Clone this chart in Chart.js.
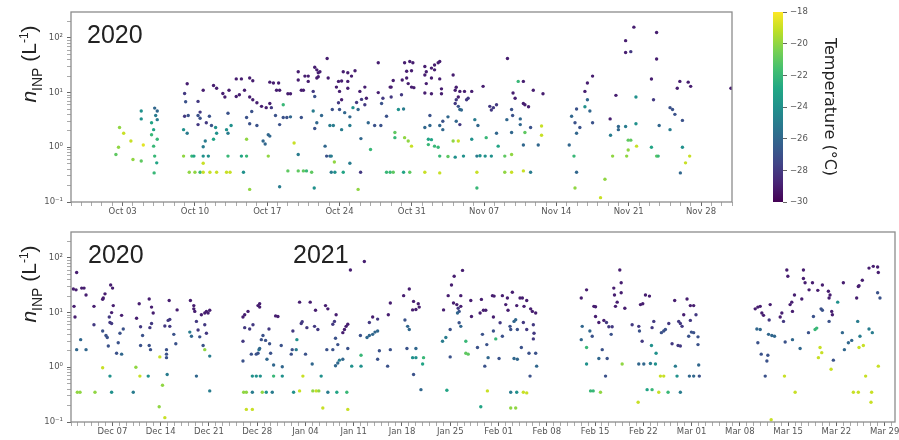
<!DOCTYPE html>
<html>
<head>
<meta charset="utf-8">
<script src="https://cdn.jsdelivr.net/npm/chart.js@4/dist/chart.umd.min.js"></script>
<style>
  body { margin: 0; background: #fff; }
  #wrap { position: relative; width: 899px; height: 440px; overflow: hidden; }
  canvas { position: absolute; }
  .ylab { position: absolute; transform: translate(-50%, -50%) rotate(-90deg); white-space: nowrap;
          font-family: "Liberation Sans", Arial, sans-serif; font-size: 21px; color: #222; }
  .ylab sub { font-size: 14px; }
  .ylab sup { font-size: 12px; }
  .year { position: absolute; font-family: "Liberation Sans", Arial, sans-serif; font-size: 25px;
          line-height: 25px; color: #222; }
</style>
</head>
<body>
<div id="wrap">
  <canvas id="topChart" width="899" height="220" style="left:0;top:0"></canvas>
  <canvas id="bottomChart" width="899" height="220" style="left:0;top:220px"></canvas>
  <canvas id="cbarChart" width="159" height="220" style="left:740px;top:0"></canvas>
  <div class="ylab" style="left:31px;top:64px"><i>n</i><sub>INP</sub> (L<sup>-1</sup>)</div>
  <div class="ylab" style="left:31px;top:284px"><i>n</i><sub>INP</sub> (L<sup>-1</sup>)</div>
  <div class="year" style="left:87px;top:22px">2020</div>
  <div class="year" style="left:88px;top:242px">2020</div>
  <div class="year" style="left:293px;top:242px">2021</div>
</div>
<script>
// x values are days since 2020-09-28
// top panel: Sep 28 - Dec 1 2020
const topDay = [
  4.7, 5.1, 4.6, 4.35, 5.8, 6.0, 6.8, 7.0, 6.8, 6.8,
  8.1, 8.35, 8.2, 8.35, 7.8, 8.0, 8.35, 8.0, 8.1, 8.3, 8.05, 7.8,
  11.25, 11.0, 11.1, 11.0, 11.35, 10.9, 11.25, 10.9, 11.7, 11.9, 11.45, 12.0, 12.5,
  12.3, 12.8, 12.5, 12.3, 12.5, 12.3, 13.1, 13.4, 13.6, 13.0, 12.8, 12.8, 13.3, 12.8, 12.8, 13.45, 14.1,
  13.8, 14.1, 14.7, 14.9, 15.3, 15.2, 14.0, 14.1, 13.8, 15.06, 15.2, 15.5, 15.2, 15.4, 15.06,
  16.0, 16.5, 16.0, 16.3, 16.8, 17.3, 17.6, 17.3, 17.6, 18.0, 18.45, 18.9, 19.25, 19.4,
  17.5, 17.0, 17.3, 18.0, 18.6, 18.8, 17.0, 16.5, 17.0, 16.7, 17.3, 19.1, 19.25, 19.1,
  19.25, 19.6, 20.1, 19.9, 20.2, 21.0, 21.25, 20.9, 20.55, 21.25, 19.8, 20.2, 20.55, 21.6, 21.0, 20.2,
  22.0, 22.0, 22.65, 22.97, 22.97, 22.3, 22.5, 23.6, 23.8, 23.94, 24.1, 23.8, 23.94, 24.8, 24.9,
  23.45, 23.6, 23.45, 23.8, 24.26, 23.6, 22.3, 22.0, 22.0, 22.5, 22.8, 23.3, 23.55, 24.6, 24.75, 25.07, 25.2, 25.5, 25.2, 25.55, 26.36, 27.0, 27.8,
  25.9, 26.2, 26.36, 26.8, 27.16, 27.5, 25.7, 26.0, 26.8, 26.8, 26.2, 25.9, 26.0, 25.3, 26.5, 27.0, 25.07, 25.4, 26.2, 27.0,
  27.97, 28.45, 28.13, 27.65, 28.6, 28.45, 27.3, 27.8, 28.78, 29.4, 30.0, 28.07, 29.0, 28.04,
  29.75, 29.75, 30.2, 30.55, 30.07, 31.0, 30.9, 31.2, 31.7, 32.2, 31.0, 31.36, 31.36, 32.3, 32.65, 32.97, 30.55, 30.9, 31.2, 32.2, 32.8, 34.26, 35.7,
  32.3, 32.8, 33.1, 32.5, 32.97, 32.07, 32.5, 32.65, 32.97, 33.2, 32.0,
  34.26, 34.4, 34.26, 34.9, 35.2, 35.55, 35.7, 35.2, 34.4, 34.9, 35.7, 34.26, 34.9, 35.87, 35.87, 34.75, 34.26, 34.75, 34.6, 34.9, 34.6, 35.2, 35.55, 35.7, 36.5, 37.2, 35.7, 36.0, 36.5, 36.0,
  37.0, 37.2, 37.3, 37.65, 37.3, 37.2, 37.5, 37.5, 37.65, 37.8, 37.3, 37.65, 37.0, 37.5,
  38.1, 38.45, 38.3, 38.8, 38.8, 38.0, 39.1, 39.4, 39.9, 39.3, 39.6, 40.1, 40.7, 39.3, 39.3, 40.55, 40.9, 41.2, 40.7, 40.2, 41.2, 41.36, 42.0, 42.0, 42.26, 42.2,
  42.66, 42.76, 42.66, 42.66, 42.66, 43.3, 43.8, 42.8, 43.0, 43.8, 43.95, 44.3, 43.5, 43.5, 44.5, 43.95, 43.8, 43.8, 44.5, 44.76, 45.7, 45.56, 45.56, 45.24,
  48.24, 48.47, 48.8, 48.95, 49.27, 48.95, 48.7, 48.95, 48.8, 49.76, 50.0, 49.76, 50.0, 50.5, 50.24, 50.5, 51.7, 51.27, 52.2, 52.76, 52.24, 52.44, 53.0, 53.0,
  53.7, 53.7, 54.2, 54.5, 53.7, 54.7, 54.7, 53.95, 54.2, 53.95, 53.8, 54.76,
  56.2, 56.7, 56.7, 56.4, 56.95, 56.2, 56.7, 56.85, 58.0, 58.0, 58.24, 58.47, 58.7, 58.95, 59.76, 60.0, 59.2, 59.2, 59.9, 59.5, 59.0, 63.9
];
const topConc = [
  2.3, 1.8, 1.0, 0.74, 1.3, 0.6, 0.56, 1.1, 4.6, 3.3,
  5.2, 4.6, 3.8, 3.2, 2.8, 2.1, 1.4, 1.05, 0.69, 0.52, 0.34, 1.7,
  14.5, 9.6, 6.8, 3.7, 3.8, 2.1, 1.8, 0.69, 0.69, 0.69, 0.35, 0.35, 0.35,
  6.9, 11, 4.4, 3.8, 3.4, 2.6, 2.8, 3.7, 2.5, 1.3, 1.02, 0.69, 0.69, 0.51, 0.35, 0.35, 0.35,
  13.5, 12, 9.6, 8.3, 11, 4.2, 2.3, 1.8, 1.4, 2.1, 1.8, 2.5, 0.69, 0.35, 0.35,
  17.8, 17.8, 8.5, 9.1, 11, 18.5, 16.5, 8.3, 7.4, 6.5, 5.6, 5.3, 6.3, 5.3,
  4.5, 3.5, 2.7, 2.5, 1.3, 1.15, 1.4, 0.69, 0.69, 0.35, 0.17, 1.7, 1.6, 0.69,
  15.5, 15, 15, 11, 11, 9.5, 9.5, 3.5, 3.5, 3.6, 3.8, 2.6, 6, 1.2, 0.37, 0.19,
  24, 17, 20, 20, 16, 11, 11, 29, 26, 23, 24, 18.5, 19.5, 42, 18.5,
  10.5, 8.5, 4.6, 2.8, 3.8, 2.2, 3.5, 0.74, 0.37, 0.37, 0.37, 0.35, 0.18, 1.05, 0.69, 0.69, 0.69, 0.54, 0.35, 0.35, 0.35, 0.51, 0.17,
  16, 16.3, 24, 23, 20, 25, 12.6, 10.5, 16, 12, 7.4, 6.5, 4.9, 4.9, 4.3, 3.6, 2.5, 2.5, 2.1, 2.5,
  10.5, 12.6, 7.5, 6.6, 7.9, 6, 5.3, 4.9, 2.8, 2.5, 2.5, 1.44, 0.91, 0.35,
  35, 10, 7.9, 3.7, 6.3, 12.6, 12.6, 16.6, 4.9, 5.0, 8.3, 1.86, 1.5, 1.5, 1.3, 1.05, 0.35, 0.35, 0.35, 0.35, 0.35, 0.35, 0.34,
  35, 37, 35, 24.5, 25, 17, 18.5, 14.6, 12.6, 12.3, 9.1,
  30, 24, 21, 28, 32, 35, 37, 26, 14.6, 18.5, 17.8, 9.8, 9.5, 11.7, 9.5, 3.8, 2.3, 2.5, 1.4, 1.38, 1.12, 1.05, 1.0, 0.69, 0.68, 0.66, 2.5, 2.1, 3.6, 3.0,
  21, 11, 12.5, 10.5, 7.4, 6.3, 8.3, 5.6, 4.9, 4.8, 3.0, 2.6, 1.3, 1.3,
  10.5, 7.9, 7.4, 10.5, 1.4, 0.69, 3.2, 2.5, 13, 0.69, 0.7, 0.69, 0.69, 0.35, 0.18, 5.6, 5.3, 6, 4.8, 1.5, 1.8, 1.05, 0.69, 0.35, 42, 3.2,
  4.9, 3.8, 1.86, 0.74, 0.35, 16, 16, 9.8, 7.9, 6.3, 6.0, 5.5, 3.3, 2.6, 2.3, 1.86, 1.1, 0.37, 0.35, 11, 9.5, 2.45, 1.66, 1.1,
  1.1, 3.7, 2.8, 5.0, 2.3, 1.8, 0.69, 0.35, 0.18, 5.5, 7.4, 10.5, 15, 20, 4.6, 2.8, 0.26, 0.12, 3.3, 8.9, 1.66, 0.69, 2.4, 2.1,
  89, 54, 56, 157, 2.4, 8.3, 2.7, 1.35, 1.35, 0.89, 0.69, 1.05,
  17.7, 125, 41, 7.4, 2.5, 1.0, 0.69, 0.69, 2.1, 5.3, 4.9, 4.0, 12, 16, 15.5, 13, 3.1, 1.0, 0.69, 0.52, 0.34, 12
];
const topTemp = [
  -20, -19, -20, -21, -19, -20, -21, -18.5, -24, -24,
  -26, -26, -25, -25, -23, -23, -22, -22, -22, -23, -22, -22,
  -29, -28, -27, -28, -27, -24, -25, -20, -22, -23, -20, -20, -22,
  -28, -29, -28, -27, -27, -28, -28, -27, -27, -25, -25, -24, -24, -19, -19, -19, -19,
  -29, -29, -29, -29, -29, -27, -24, -24, -23, -24, -25, -24, -22, -19, -19,
  -29, -29, -29, -29, -29, -29, -29, -29, -29, -29, -29, -29, -29, -28,
  -27, -27, -27, -27, -26, -26, -20, -23, -22, -24, -20, -26, -26, -20,
  -29, -29, -29, -29, -29, -29, -29, -27, -27, -26, -27, -27, -22, -19, -21, -25,
  -29, -29, -29, -29, -29, -29, -29, -29, -29, -29, -29, -29, -29, -29, -29,
  -28, -27, -25, -26, -26, -27, -27, -25, -21, -21, -22, -21, -24, -26, -27, -26, -25, -20, -25, -24, -23, -25, -20,
  -29, -29, -29, -29, -29, -29, -29, -29, -29, -29, -29, -28, -27, -27, -26, -26, -25, -25, -25, -25,
  -29, -29, -28, -28, -29, -28, -24, -26, -26, -27, -27, -26, -22, -28,
  -29, -29, -28, -27, -27, -29, -29, -29, -24, -25, -28, -21, -22, -20, -20, -19, -22, -22, -21, -23, -21, -19, -19,
  -29, -29, -29, -29, -29, -29, -29, -29, -29, -29, -28,
  -29, -29, -29, -29, -29, -29, -29, -29, -29, -29, -29, -29, -29, -29, -29, -27, -26, -26, -23, -23, -22, -22, -22, -22, -21, -24, -26, -26, -26, -27,
  -29, -29, -29, -29, -28, -28, -29, -27, -26, -26, -26, -28, -20, -19,
  -29, -28, -28, -29, -24, -24, -25, -26, -29, -25, -24, -24, -24, -19, -22, -28, -28, -28, -28, -22, -26, -23, -21, -20, -29, -26,
  -27, -27, -26, -20, -19, -22, -29, -29, -29, -29, -29, -29, -26, -26, -27, -21, -26, -19, -25, -29, -29, -19, -19, -26,
  -26, -26, -27, -27, -27, -26, -22, -26, -20, -24, -26, -29, -29, -29, -26, -27, -20, -19, -29, -29, -25, -20, -26, -26,
  -29, -29, -28, -29, -25, -24, -24, -21, -21, -20, -20, -19,
  -29, -29, -29, -28, -26, -23, -21, -22, -25, -27, -27, -27, -29, -29, -29, -29, -27, -24, -19, -19, -26, -29
];

// bottom panel: Dec 1 2020 - Mar 30 2021 (same day count)
const bottomDay = [
  64.82, 64.34, 64.73, 65.55, 65.89, 66.18, 64.44, 64.58, 65.4, 64.82, 66.18, 64.92, 65.31, 67.33, 67.33, 67.48, 68.59,
  68.68, 68.59, 68.93, 68.59, 69.07, 69.26, 69.65, 69.89, 69.65, 69.89, 69.55, 69.89, 70.13, 69.75, 70.03, 70.61, 71.34, 70.85, 71.1, 71.58, 69.41, 71.34,
  73.03, 73.51, 73.89, 74.09, 74.09, 74.38, 73.41, 73.99, 75.2, 75.34, 75.68, 75.44, 75.34, 75.68, 75.92, 75.53,
  76.88, 77.27, 76.79, 77.61, 77.85, 77.85, 77.85, 77.95, 77.61, 78.09, 78.33, 78.24, 78.33, 78.91, 79.2, 79.39,
  81.32, 81.81, 81.81, 81.95, 82.19, 82.91, 83.4, 83.64, 84.12, 83.88, 83.4, 82.43, 81.23, 81.47, 82.67, 83.16, 83.64, 84.12, 82.19, 83.4, 84.12,
  88.94, 89.19, 89.67, 91.12, 91.36, 91.36, 89.19, 89.91, 90.39, 88.94, 90.15, 90.87, 91.12, 91.26, 91.6, 91.84, 92.22, 92.71, 92.8, 92.95, 93.38, 93.67, 94.01, 88.94, 91.36, 92.42,
  90.3, 90.87, 91.45, 93.38, 94.64, 89.04, 89.43, 90.3, 91.74, 92.32, 93.19, 89.43, 90.3,
  94.49, 94.64, 95.94, 96.08, 96.18, 96.66, 97.15, 97.39, 97.53, 96.76, 98.01, 97.63, 96.28, 97.15,
  98.69, 99.46, 98.21, 99.32, 99.8, 98.98, 100.28, 99.07, 99.56, 99.94, 100.52, 100.91, 101.25, 101.1, 101.97, 101.25, 102.55,
  102.45, 102.21, 101.97, 102.36, 102.69, 102.69, 102.36, 102.93, 103.42, 103.9, 103.66, 103.42, 104.14, 104.14, 104.0, 104.14,
  104.52, 106.54, 105.97, 106.06, 106.06, 104.71, 107.27, 107.75, 108.47, 106.93, 107.27, 107.75, 108.09, 108.47, 108.72, 108.47, 109.92, 110.02, 110.31, 110.31,
  112.24, 113.06, 113.68, 113.54, 114.02, 114.36, 114.5, 112.43, 112.82, 113.06, 112.72, 114.02, 113.54, 114.02, 115.13, 114.99, 113.68, 114.75, 118.51,
  118.03, 117.88, 118.36, 118.99, 118.99, 118.7, 119.18, 119.57, 120.78, 119.47, 119.95, 120.15, 120.53, 120.29, 120.05, 120.53, 120.29, 120.53, 121.26, 121.26, 121.6,
  121.98, 122.08, 123.33, 123.52, 123.81, 124.15, 123.67, 122.95, 124.3, 124.49, 124.01, 124.39, 123.43,
  125.12, 125.36, 125.26, 125.6, 125.26, 126.23, 126.08, 126.56, 126.56, 127.29, 127.05, 128.01, 127.38, 127.67, 127.77, 128.25, 128.49, 128.64, 129.12, 129.46, 130.09, 129.7,
  128.73, 129.31, 128.25, 128.73, 129.6, 130.09, 130.66, 130.91, 131.39, 131.05, 131.15, 131.05, 130.42, 131.39, 131.53, 130.57, 127.77, 128.64, 129.6, 130.09, 127.77, 128.49,
  138.0, 138.77, 139.83, 140.07, 140.07, 140.55, 141.28, 141.66, 142.0, 142.48, 142.34, 138.14, 138.0, 139.25, 139.59, 138.77, 138.77, 140.55, 141.76, 141.04, 141.52, 139.35, 139.73, 140.79,
  142.72, 142.82, 142.96, 143.21, 143.59, 143.79, 143.79, 143.93,
  144.32, 145.38, 146.34, 146.44, 146.83, 146.59, 146.92, 147.31, 147.89, 148.27, 148.52, 148.18, 148.85, 146.34, 147.07, 148.03, 148.76, 147.55, 148.27, 149.24, 150.59, 149.48, 149.96, 146.25,
  149.62, 149.96, 150.2, 150.69, 151.17, 151.55, 152.37, 152.13, 152.62, 152.04, 152.37, 151.65, 151.89, 152.37, 153.34, 153.82, 154.3, 152.86, 153.82, 154.64, 153.58, 153.97, 154.3, 154.93, 154.93, 155.03, 153.68, 154.3, 155.12,
  163.23, 163.61, 163.95, 164.19, 164.43, 163.47, 163.95, 163.61, 164.1, 165.06, 164.92, 164.68, 165.16, 165.64, 166.03, 165.25, 165.4, 166.85, 167.09, 167.33, 167.57, 167.47,
  167.81, 167.96, 168.29, 168.53, 168.63, 168.92, 168.63, 169.02, 169.74, 169.98, 170.22, 170.22, 170.46, 171.04, 171.53, 172.3, 172.97, 170.95, 171.67, 171.91, 172.15, 172.63, 172.88, 172.39,
  173.84, 174.08, 173.94, 174.32, 174.42, 172.78, 172.97, 173.94, 174.56, 174.23, 175.19, 176.01, 175.87, 176.16, 176.74, 177.22,
  177.94, 178.18, 178.28, 178.76, 178.09, 178.42, 178.28, 178.91, 179.24, 177.46, 178.18, 179.73, 180.35, 180.98, 181.08, 180.98, 181.32, 179.73, 180.21, 181.08, 180.11, 180.02, 165.54
];
const bottomConc = [
  54, 27, 26, 28, 28, 21, 13, 8.3, 3.2, 2.1, 2.1, 0.35, 0.35, 13, 6, 0.35, 0.98,
  18.5, 17.5, 22, 4.6, 3.8, 3.5, 0.69, 0.35, 6.6, 6.3, 8.3, 10, 13.4, 32, 28, 1.8, 1.74, 2.8, 4.2, 5, 2.45, 8.9,
  0.35, 7.9, 14.5, 5.5, 2.5, 3.8, 1.0, 0.69, 0.69, 17.7, 12.6, 5.3, 2.5, 6.3, 9.8, 2.1,
  1.55, 0.47, 0.19, 0.12, 2.1, 1.74, 1.5, 0.74, 5.7, 7.2, 7.5, 16.6, 5.6, 4, 2.7, 11.2,
  16.6, 13.4, 11.7, 10.5, 6.9, 9.1, 9.8, 10.5, 11, 9.8, 6, 4.8, 4.4, 3.7, 3.6, 2.5, 4.2, 1.6, 0.69, 2.1, 0.37,
  8.3, 9.1, 10.5, 13.4, 12.6, 14.5, 5.3, 5, 6, 3, 1.74, 1.74, 1.8, 2.1, 3.2, 3.8, 3.1, 5, 2.7, 1.8, 1.1, 8.7, 8.5, 1.3, 2.2, 1.4,
  0.69, 0.69, 0.69, 0.69, 0.69, 0.35, 0.35, 0.35, 0.35, 0.35, 0.35, 0.17, 0.17,
  2.5, 1.02, 1.74, 2.1, 4.6, 2.1, 15.5, 6.3, 6.8, 3.2, 1.74, 0.69, 0.35, 0.37,
  15.5, 11, 5.3, 5.6, 4.9, 1.15, 0.69, 0.37, 0.37, 0.37, 0.18, 13.4, 11.7, 2.1, 2.1, 0.35, 0.35,
  9.1, 6.9, 6.1, 3.4, 2.6, 1.2, 1.07, 1.35, 1.4, 5.6, 4.9, 4.3, 6.1, 2.2, 0.35, 0.17,
  60, 86, 3.8, 1.66, 1.05, 1.05, 6.6, 8.3, 7.6, 3.5, 3.8, 4, 4.4, 4.6, 2.0, 1.4, 1.05, 9.1, 15, 2.1,
  20.4, 27, 16, 11.2, 11.4, 14.5, 12.6, 7.3, 5.6, 4.9, 2.2, 2.2, 1.5, 1.5, 1.5, 1.15, 0.74, 0.39, 0.38,
  11.2, 3, 3.5, 4.9, 1.55, 20.4, 32, 46, 59, 15, 14, 12, 13, 10.5, 9.8, 5.6, 6.5, 20.4, 3, 1.8, 1.74,
  16.6, 8.5, 9.8, 17.4, 11, 11, 4, 2.3, 2.6, 1.5, 1.05, 0.37, 0.19,
  20.4, 20, 8.3, 3.3, 4.6, 6.5, 1.45, 3.7, 20.4, 18.5, 14, 23.5, 11, 5.6, 4.9, 6.9, 7.4, 13.4, 18.5, 18.5, 16.6, 13,
  4.9, 2.3, 1.45, 1.4, 6.6, 4.9, 11.7, 10.5, 9.8, 6, 4.2, 3.3, 1.8, 1.8, 1.05, 0.69, 0.35, 0.35, 0.35, 0.34, 0.18, 0.18,
  18.5, 26, 13, 12.8, 8.5, 6.6, 7.2, 6.6, 5.5, 5.5, 4, 5.6, 3.2, 4.6, 3.7, 2.3, 1.15, 1.45, 1.45, 2.1, 0.69, 0.37, 0.37, 0.35,
  28, 21, 13, 15.5, 60, 35, 23, 1.15,
  12, 6, 5.6, 4.6, 3, 14, 14.5, 21, 20, 5.3, 6.9, 2.5, 1.8, 1.15, 1.15, 1.17, 1.15, 0.39, 0.39, 0.35, 0.35, 0.69, 0.69, 0.23,
  4.3, 4.6, 4.9, 6.3, 2.7, 16.6, 6.3, 6.9, 5.6, 2.5, 2.45, 1.05, 0.69, 0.35, 17.7, 13.4, 13.4, 9.1, 7.2, 9.1, 3.7, 4.4, 4.3, 3.6, 2.6, 1.1, 0.69, 0.69, 0.69,
  11.7, 12.6, 13, 9.8, 8.9, 5, 4.9, 2.8, 1.74, 1.66, 1.3, 0.69, 4, 3.8, 3.7, 7.3, 14, 8.3, 9.8, 6.9, 2.9, 0.69,
  60, 46, 14, 15.5, 10.5, 21, 3.2, 0.35, 2.2, 17.7, 60, 42, 35, 26, 35, 25.5, 32, 4.3, 8.5, 4.9, 5.2, 2.3, 1.85, 1.5,
  24.5, 21, 18.5, 10.5, 9.1, 11.7, 11, 6.9, 1.35, 0.92, 15.5, 35, 4.3, 2.1, 2.8, 3.1,
  18.5, 30, 31, 39, 6.9, 3.7, 2.3, 2.5, 0.69, 0.35, 0.35, 65, 70, 68, 54, 23, 18.5, 5, 4.3, 1.05, 0.35, 0.23, 0.11
];
const bottomTemp = [
  -29, -29, -29, -29, -29, -29, -29, -29, -26, -26, -26, -20, -20, -29, -28, -20, -19,
  -29, -29, -29, -27, -27, -27, -24, -24, -28, -28, -28, -29, -29, -29, -29, -27, -26, -27, -27, -27, -27, -29,
  -25, -29, -29, -28, -27, -27, -20, -19, -24, -29, -29, -28, -27, -28, -29, -27,
  -19, -20, -20, -19, -27, -27, -27, -25, -28, -28, -28, -29, -28, -27, -27, -29,
  -29, -29, -29, -29, -28, -29, -29, -29, -29, -29, -28, -28, -25, -26, -27, -27, -28, -25, -26, -20, -25,
  -29, -29, -29, -29, -29, -29, -28, -28, -28, -28, -27, -27, -27, -25, -27, -27, -27, -28, -27, -27, -26, -29, -29, -27, -26, -26,
  -24, -24, -24, -22, -24, -20, -20, -25, -20, -24, -25, -19, -19,
  -27, -26, -27, -27, -28, -25, -29, -28, -28, -24, -27, -19, -24, -19,
  -29, -29, -28, -28, -28, -26, -24, -20, -19, -20, -19, -29, -29, -27, -27, -25, -23,
  -29, -28, -28, -27, -27, -26, -26, -25, -26, -29, -29, -29, -29, -27, -22, -19,
  -29, -29, -27, -22, -24, -24, -28, -29, -28, -26, -26, -26, -26, -26, -27, -27, -27, -29, -29, -27,
  -29, -29, -29, -29, -29, -29, -29, -27, -26, -26, -27, -26, -24, -24, -22, -23, -27, -26, -23,
  -29, -25, -25, -27, -27, -29, -29, -29, -29, -29, -29, -28, -29, -27, -26, -26, -27, -29, -22, -21, -21,
  -29, -29, -29, -29, -29, -29, -27, -27, -27, -26, -27, -19, -23,
  -29, -29, -29, -22, -27, -28, -27, -27, -29, -29, -29, -29, -29, -27, -27, -26, -26, -29, -29, -29, -29, -29,
  -27, -27, -26, -26, -28, -28, -29, -29, -29, -28, -28, -28, -27, -27, -26, -27, -25, -24, -19, -19, -20, -20,
  -29, -29, -29, -29, -29, -29, -29, -28, -28, -28, -27, -26, -26, -26, -27, -22, -24, -26, -27, -27, -27, -22, -22, -20,
  -29, -29, -29, -29, -29, -29, -29, -20,
  -29, -28, -28, -27, -28, -29, -29, -29, -29, -28, -28, -24, -24, -26, -26, -25, -24, -23, -22, -19, -22, -19, -19, -19,
  -27, -27, -27, -28, -28, -29, -28, -28, -28, -28, -28, -25, -24, -25, -29, -29, -29, -29, -28, -28, -27, -27, -27, -27, -27, -26, -26, -26, -27,
  -29, -29, -29, -29, -29, -26, -26, -27, -27, -27, -27, -27, -26, -26, -26, -28, -29, -29, -29, -28, -27, -19,
  -29, -29, -29, -29, -29, -29, -26, -19, -26, -29, -29, -29, -29, -29, -29, -29, -29, -27, -27, -22, -22, -19, -19, -19,
  -29, -29, -29, -29, -29, -27, -27, -27, -27, -19, -24, -29, -26, -26, -26, -26,
  -29, -29, -29, -29, -25, -25, -19, -19, -19, -19, -19, -29, -29, -29, -29, -27, -27, -25, -25, -19, -19, -19, -19
];

const topTickDays = [5, 12, 19, 26, 33, 40, 47, 54, 61];
const topTickLabels = ['Oct 03', 'Oct 10', 'Oct 17', 'Oct 24', 'Oct 31', 'Nov 07', 'Nov 14', 'Nov 21', 'Nov 28'];
const bottomTickDays = [70, 77, 84, 91, 98, 105, 112, 119, 126, 133, 140, 147, 154, 161, 168, 175, 182];
const bottomTickLabels = ['Dec 07', 'Dec 14', 'Dec 21', 'Dec 28', 'Jan 04', 'Jan 11', 'Jan 18', 'Jan 25', 'Feb 01',
                          'Feb 08', 'Feb 15', 'Feb 22', 'Mar 01', 'Mar 08', 'Mar 15', 'Mar 22', 'Mar 29'];
const yMajorTicks = [0.1, 1, 10, 100];
const yTickLabels = ['10\u207B\u00B9', '10\u2070', '10\u00B9', '10\u00B2'];
const cbarTicks = [-30, -28, -26, -24, -22, -20, -18];

const tempMin = -30, tempMax = -18;
const yMin = 0.1, yMax = 297;

const viridisStops = ['#440154', '#482475', '#414487', '#355f8d', '#2a788e', '#21918c',
                      '#22a884', '#44bf70', '#7ad151', '#bddf26', '#fde725'];

function hexToRgb(h) {
    return [parseInt(h.slice(1, 3), 16), parseInt(h.slice(3, 5), 16), parseInt(h.slice(5, 7), 16)];
}

function viridis(t) {
    t = Math.min(1, Math.max(0, t));
    const pos = t * (viridisStops.length - 1);
    const i = Math.min(Math.floor(pos), viridisStops.length - 2);
    const f = pos - i;
    const a = hexToRgb(viridisStops[i]);
    const b = hexToRgb(viridisStops[i + 1]);
    const c = a.map((v, k) => Math.round(v + (b[k] - v) * f));
    return `rgb(${c[0]}, ${c[1]}, ${c[2]})`;
}

const frame = {
    id: 'frame',
    afterDraw(chart) {
        const {ctx, chartArea: a} = chart;
        ctx.save();
        ctx.strokeStyle = '#8c8c8c';
        ctx.lineWidth = 1.3;
        ctx.strokeRect(a.left, a.top, a.right - a.left, a.bottom - a.top);
        ctx.restore();
    }
};

const tickFont = {family: 'DejaVu Sans', size: 8.5};

function makePanel(canvasId, days, conc, temps, xMin, xMax, tickDays, tickLabels, padRight) {
    const n = Math.min(days.length, conc.length, temps.length);
    const points = [];
    const colors = [];
    for (let i = 0; i < n; i++) {
        points.push({x: days[i], y: conc[i]});
        colors.push(viridis((temps[i] - tempMin) / (tempMax - tempMin)));
    }

    return new Chart(document.getElementById(canvasId), {
        type: 'scatter',
        data: {
            datasets: [{
                data: points,
                pointBackgroundColor: colors,
                pointBorderWidth: 0,
                pointRadius: 1.7
            }]
        },
        options: {
            responsive: false,
            animation: false,
            devicePixelRatio: 1,
            layout: {padding: {top: 12, right: padRight, left: 0, bottom: 0}},
            plugins: {legend: {display: false}, tooltip: {enabled: false}},
            scales: {
                x: {
                    type: 'linear',
                    min: xMin,
                    max: xMax,
                    afterBuildTicks: axis => {
                        const t = [];
                        for (let d = Math.ceil(xMin); d <= xMax; d++) t.push({value: d});
                        axis.ticks = t;
                    },
                    afterFit: axis => { axis.height = 18; },
                    border: {display: false},
                    grid: {
                        drawOnChartArea: false,
                        tickLength: 4,
                        tickColor: c => tickDays.includes(c.tick && c.tick.value) ? '#666' : '#aaa'
                    },
                    ticks: {
                        autoSkip: false,
                        maxRotation: 0,
                        padding: 1,
                        color: '#555',
                        font: tickFont,
                        callback: v => {
                            const k = tickDays.indexOf(v);
                            return k >= 0 ? tickLabels[k] : '';
                        }
                    }
                },
                y: {
                    type: 'logarithmic',
                    min: yMin,
                    max: yMax,
                    afterBuildTicks: axis => {
                        const t = [];
                        for (const base of [0.1, 1, 10, 100]) {
                            for (let m = 1; m < 10; m++) {
                                const v = +(base * m).toPrecision(3);
                                if (v <= yMax) t.push({value: v});
                            }
                        }
                        axis.ticks = t;
                    },
                    afterFit: axis => { axis.width = 71; },
                    border: {display: false},
                    grid: {
                        drawOnChartArea: false,
                        tickLength: 4,
                        tickColor: c => yMajorTicks.includes(c.tick && c.tick.value) ? '#666' : '#aaa'
                    },
                    ticks: {
                        autoSkip: false,
                        padding: 4,
                        color: '#555',
                        font: tickFont,
                        callback: v => {
                            const k = yMajorTicks.indexOf(v);
                            return k >= 0 ? yTickLabels[k] : '';
                        }
                    }
                }
            }
        },
        plugins: [frame]
    });
}

makePanel('topChart', topDay, topConc, topTemp, 0, 64, topTickDays, topTickLabels, 167);
makePanel('bottomChart', bottomDay, bottomConc, bottomTemp, 64, 183.5, bottomTickDays, bottomTickLabels, 2);

// colour bar
new Chart(document.getElementById('cbarChart'), {
    type: 'bar',
    data: {
        labels: [''],
        datasets: [{
            data: [[tempMin, tempMax]],
            barPercentage: 1,
            categoryPercentage: 1,
            borderWidth: 0,
            backgroundColor: c => {
                const a = c.chart.chartArea;
                if (!a) return '#21918c';
                const g = c.chart.ctx.createLinearGradient(0, a.bottom, 0, a.top);
                viridisStops.forEach((col, i) => g.addColorStop(i / (viridisStops.length - 1), col));
                return g;
            }
        }]
    },
    options: {
        responsive: false,
        animation: false,
        devicePixelRatio: 1,
        layout: {padding: {left: 33, top: 12, bottom: 18, right: 56}},
        plugins: {legend: {display: false}, tooltip: {enabled: false}},
        scales: {
            x: {display: false},
            y: {
                position: 'right',
                min: tempMin,
                max: tempMax,
                afterBuildTicks: axis => { axis.ticks = cbarTicks.map(v => ({value: v})); },
                afterFit: axis => { axis.width = 60; },
                border: {display: false},
                grid: {drawOnChartArea: false, tickLength: 4, tickColor: '#666'},
                ticks: {
                    padding: 3,
                    color: '#555',
                    font: tickFont,
                    callback: v => '\u2212' + Math.abs(v)
                },
                title: {
                    display: true,
                    text: 'Temperature (\u00B0C)',
                    color: '#222',
                    font: {family: 'DejaVu Sans', size: 16}
                }
            }
        }
    }
});
</script>
</body>
</html>
